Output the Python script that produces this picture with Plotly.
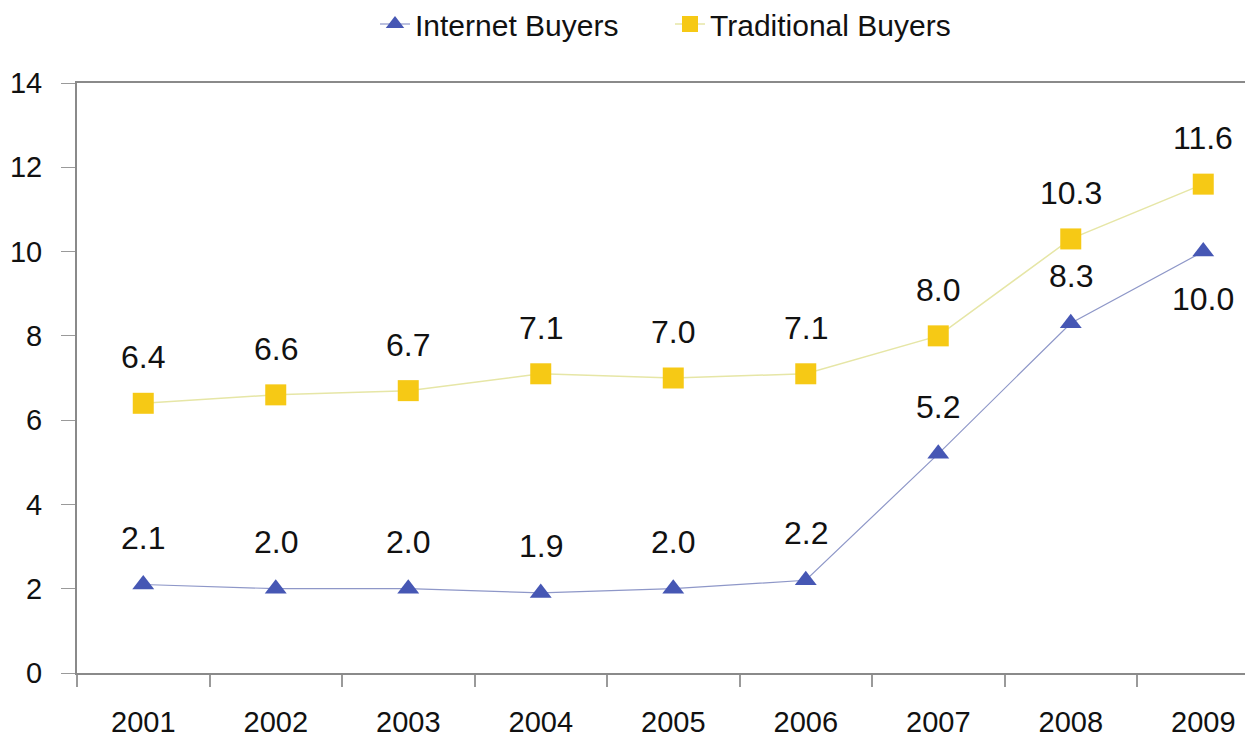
import plotly.graph_objects as go

years = ["2001", "2002", "2003", "2004", "2005", "2006", "2007", "2008", "2009"]
internet_buyers = [2.1, 2.0, 2.0, 1.9, 2.0, 2.2, 5.2, 8.3, 10.0]
traditional_buyers = [6.4, 6.6, 6.7, 7.1, 7.0, 7.1, 8.0, 10.3, 11.6]
y_ticks = [0, 2, 4, 6, 8, 10, 12, 14]

# years whose Internet Buyers label sits under the point instead of above it
internet_below = {"2009"}

FONT = "Liberation Sans, Arial, sans-serif"
TEXT = "#111111"
BLUE = "#4657B4"
BLUE_LINE = "#8E97C8"
YELLOW = "#F6C915"
YELLOW_LINE = "#E6E6A6"
AXIS = "#8A8A8A"

fig = go.Figure()

fig.add_trace(go.Scatter(
    x=years, y=internet_buyers, name="Internet Buyers",
    mode="lines+markers",
    line=dict(color=BLUE_LINE, width=1.2),
    marker=dict(symbol="triangle-up", size=19, color=BLUE),
))
fig.add_trace(go.Scatter(
    x=years, y=traditional_buyers, name="Traditional Buyers",
    mode="lines+markers",
    line=dict(color=YELLOW_LINE, width=1.5),
    marker=dict(symbol="square", size=21, color=YELLOW),
))

# value labels; category axes take the category index as annotation x
label_font = dict(size=32, color=TEXT, family=FONT)
annotations = []
for i, v in enumerate(traditional_buyers):
    annotations.append(dict(x=i, y=v, text=f"{v:.1f}", showarrow=False,
                            yshift=46, font=label_font))
for i, (yr, v) in enumerate(zip(years, internet_buyers)):
    shift = -47 if yr in internet_below else 47
    annotations.append(dict(x=i, y=v, text=f"{v:.1f}", showarrow=False,
                            yshift=shift, font=label_font))

fig.update_layout(
    width=1245, height=741,
    margin=dict(l=77, r=0, t=83, b=68),
    paper_bgcolor="white", plot_bgcolor="white",
    font=dict(family=FONT, color=TEXT),
    showlegend=True,
    legend=dict(orientation="h", xref="container", yref="container",
                x=375 / 1245, xanchor="left", y=1 - 24 / 741, yanchor="middle",
                font=dict(size=30, color=TEXT), entrywidth=250,
                bgcolor="rgba(0,0,0,0)"),
    annotations=annotations,
    xaxis=dict(
        type="category", range=[-0.5, 8.315],
        showline=True, linecolor=AXIS, linewidth=2, mirror=True,
        showgrid=False, zeroline=False,
        ticks="outside", tickson="boundaries", ticklen=12, tickcolor="#9A9A9A", tickwidth=2,
        tickfont=dict(size=29, color=TEXT), ticklabelstandoff=22,
    ),
    yaxis=dict(
        range=[0, 14], tickvals=y_ticks,
        showline=True, linecolor=AXIS, linewidth=2,
        showgrid=False, zeroline=False,
        ticks="outside", ticklen=14, tickcolor="#9A9A9A", tickwidth=1,
        tickfont=dict(size=29, color=TEXT), ticklabelstandoff=13,
    ),
)

fig.write_html("out.html")
